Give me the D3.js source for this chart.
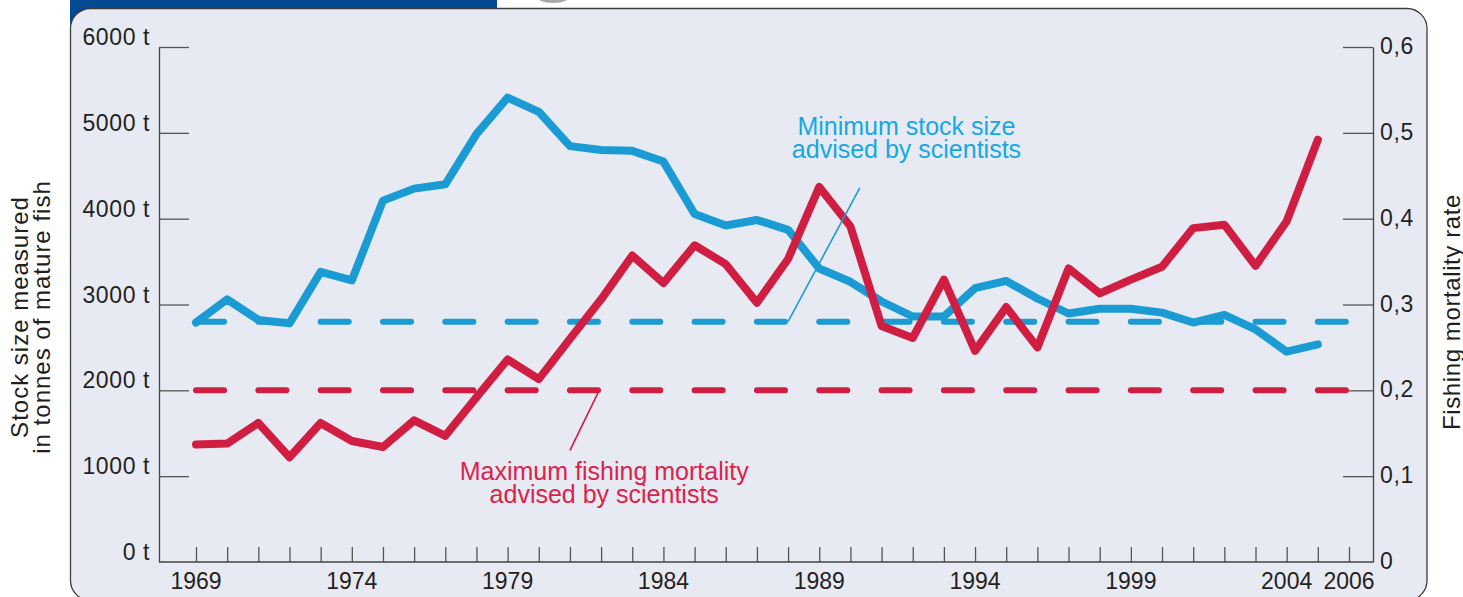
<!DOCTYPE html>
<html>
<head>
<meta charset="utf-8">
<script src="https://cdn.jsdelivr.net/npm/d3@7"></script>
<style>
  html, body { margin: 0; padding: 0; background: #fff; }
  svg { display: block; font-family: "Liberation Sans", Arial, Helvetica, sans-serif; }
</style>
</head>
<body>
<svg id="chart" width="1463" height="597"></svg>
<script>
// values
const years = [1969, 1970, 1971, 1972, 1973, 1974, 1975, 1976, 1977, 1978,
  1979, 1980, 1981, 1982, 1983, 1984, 1985, 1986, 1987, 1988,
  1989, 1990, 1991, 1992, 1993, 1994, 1995, 1996, 1997, 1998,
  1999, 2000, 2001, 2002, 2003, 2004, 2005];
const stockTonnes = [2790, 3060, 2820, 2780, 3380, 3280, 4210, 4350, 4400, 4985,
  5410, 5245, 4845, 4800, 4790, 4665, 4055, 3920, 3985, 3870,
  3420, 3265, 3035, 2860, 2860, 3190, 3275, 3070, 2895, 2950,
  2950, 2905, 2790, 2880, 2710, 2450, 2535];
const fishingMortality = [0.137, 0.138, 0.162, 0.122, 0.162, 0.141, 0.134, 0.165, 0.147, 0.192,
  0.236, 0.213, 0.260, 0.306, 0.357, 0.325, 0.369, 0.347, 0.302, 0.353,
  0.437, 0.391, 0.275, 0.261, 0.329, 0.246, 0.297, 0.250, 0.342, 0.313,
  0.329, 0.344, 0.389, 0.393, 0.345, 0.397, 0.492];

const stockAdvised = 2800;      // minimum stock size advised
const mortalityAdvised = 0.2;   // maximum fishing mortality advised
const refYears = [1969, 2006];

const stockTicks = [0, 1000, 2000, 3000, 4000, 5000, 6000];
const stockTickLabels = ["0 t", "1000 t", "2000 t", "3000 t", "4000 t", "5000 t", "6000 t"];
const mortalityTicks = [0, 0.1, 0.2, 0.3, 0.4, 0.5, 0.6];
const mortalityTickLabels = ["0", "0,1", "0,2", "0,3", "0,4", "0,5", "0,6"];
const yearTickLabels = [1969, 1974, 1979, 1984, 1989, 1994, 1999, 2004, 2006];

const stockTitle = ["Stock size measured", "in tonnes of mature fish"];
const mortalityTitle = "Fishing mortality rate";
const stockNote = ["Minimum stock size", "advised by scientists"];
const mortalityNote = ["Maximum fishing mortality", "advised by scientists"];
// callout pointers in data units: [year, value]
const stockPointer = [[1988, 2800], [1990.3, 4360]];
const mortalityPointer = [[1981.9, 0.197], [1981.0, 0.13]];

const blue = "#1b9bd4", blueText = "#14a8e4";
const red = "#d01d42", redText = "#dc2249";
const ink = "#231f20", axisInk = "#444";

const svg = d3.select("#chart");

// panel
svg.append("rect").attr("x", 70).attr("y", 0).attr("width", 427).attr("height", 30)
  .attr("fill", "#044a92");
svg.append("ellipse").attr("cx", 553).attr("cy", -5).attr("rx", 18).attr("ry", 8)
  .attr("fill", "#a9a9a9");
svg.append("rect").attr("x", 70.5).attr("y", 8.5).attr("width", 1356.5).attr("height", 592)
  .attr("rx", 20).attr("fill", "#e8eaf3").attr("stroke", "#3d3d3d").attr("stroke-width", 1.3);

const axL = 159, axR = 1373, plotTop = 47, base = 562;
const x = d3.scaleLinear().domain([1969, 2006]).range([196, 1349]);
const yL = d3.scaleLinear().domain([0, 6000]).range([base, plotTop]);
const yR = d3.scaleLinear().domain([0, 0.6]).range([base, plotTop]);

// axes, ticks pointing inward
const gL = svg.append("g").attr("transform", `translate(${axL},0)`)
  .call(d3.axisRight(yL).tickValues(stockTicks.slice(1)).tickSize(30).tickSizeOuter(0).tickFormat(""));
const gR = svg.append("g").attr("transform", `translate(${axR},0)`)
  .call(d3.axisLeft(yR).tickValues(mortalityTicks.slice(1)).tickSize(30).tickSizeOuter(0).tickFormat(""));
const gB = svg.append("g").attr("transform", `translate(0,${base})`)
  .call(d3.axisTop(x).tickValues(d3.range(1969, 2007)).tickSize(15).tickSizeOuter(0).tickFormat(""));
gB.select(".domain").remove();
svg.append("line").attr("x1", axL).attr("x2", axR).attr("y1", base).attr("y2", base)
  .attr("stroke", axisInk).attr("stroke-width", 1.3);
[gL, gR, gB].forEach((g) => {
  g.select(".domain").attr("stroke", axisInk).attr("stroke-width", 1.3);
  g.selectAll(".tick line").attr("stroke", "#555").attr("stroke-width", 1.3);
});

// tick labels
svg.append("g").selectAll("text").data(stockTicks).join("text")
  .attr("x", 150).attr("y", (d) => yL(d) - 2)
  .attr("text-anchor", "end").attr("font-size", 23).attr("letter-spacing", 0.6)
  .attr("fill", ink).text((d, i) => stockTickLabels[i]);
svg.append("g").selectAll("text").data(mortalityTicks).join("text")
  .attr("x", 1380).attr("y", (d) => yR(d) + 7)
  .attr("font-size", 23).attr("letter-spacing", 0.6)
  .attr("fill", ink).text((d, i) => mortalityTickLabels[i]);
svg.append("g").selectAll("text").data(yearTickLabels).join("text")
  .attr("x", (d) => x(d)).attr("y", 589)
  .attr("text-anchor", "middle").attr("font-size", 23)
  .attr("font-family", "'Liberation Sans Narrow', 'Arial Narrow', 'Liberation Sans', Arial, sans-serif")
  .attr("fill", ink).text((d) => d);

// axis titles
svg.append("text").attr("transform", "translate(28,317) rotate(-90)")
  .attr("text-anchor", "middle").attr("font-size", 24).attr("letter-spacing", 1)
  .attr("fill", ink)
  .selectAll("tspan").data(stockTitle).join("tspan")
  .attr("x", 0).attr("dy", (d, i) => (i === 0 ? 0 : 22)).text((d) => d);
svg.append("text").attr("transform", "translate(1460,312) rotate(-90)")
  .attr("text-anchor", "middle").attr("font-size", 24).attr("letter-spacing", 0.6)
  .attr("fill", ink).text(mortalityTitle);

// advised reference lines
const step = x(1971) - x(1969);
const dash = `${step * 0.45} ${step * 0.55}`;
svg.append("line").attr("x1", x(refYears[0])).attr("x2", x(refYears[1]))
  .attr("y1", yL(stockAdvised)).attr("y2", yL(stockAdvised))
  .attr("stroke", blue).attr("stroke-width", 6).attr("stroke-linecap", "round")
  .attr("stroke-dasharray", dash);
svg.append("line").attr("x1", x(refYears[0])).attr("x2", x(refYears[1]))
  .attr("y1", yR(mortalityAdvised)).attr("y2", yR(mortalityAdvised))
  .attr("stroke", red).attr("stroke-width", 6).attr("stroke-linecap", "round")
  .attr("stroke-dasharray", dash);

// series
const stockLine = d3.line().x((d, i) => x(years[i])).y((d) => yL(d));
const fLine = d3.line().x((d, i) => x(years[i])).y((d) => yR(d));
svg.append("path").datum(stockTonnes).attr("d", stockLine)
  .attr("fill", "none").attr("stroke", blue).attr("stroke-width", 8)
  .attr("stroke-linejoin", "round").attr("stroke-linecap", "round");
svg.append("path").datum(fishingMortality).attr("d", fLine)
  .attr("fill", "none").attr("stroke", red).attr("stroke-width", 8)
  .attr("stroke-linejoin", "round").attr("stroke-linecap", "round");

// callouts
svg.append("path").datum(stockPointer)
  .attr("d", d3.line().x((d) => x(d[0])).y((d) => yL(d[1])))
  .attr("fill", "none").attr("stroke", blue).attr("stroke-width", 1.6);
svg.append("path").datum(mortalityPointer)
  .attr("d", d3.line().x((d) => x(d[0])).y((d) => yR(d[1])))
  .attr("fill", "none").attr("stroke", red).attr("stroke-width", 1.6);

svg.append("text").attr("x", x(1991.8)).attr("y", yL(4980))
  .attr("text-anchor", "middle").attr("font-size", 25).attr("fill", blueText)
  .selectAll("tspan").data(stockNote).join("tspan")
  .attr("x", x(1991.8)).attr("dy", (d, i) => (i === 0 ? 0 : 23)).text((d) => d);
svg.append("text").attr("x", x(1982.1)).attr("y", yR(0.095))
  .attr("text-anchor", "middle").attr("font-size", 25).attr("fill", redText)
  .selectAll("tspan").data(mortalityNote).join("tspan")
  .attr("x", x(1982.1)).attr("dy", (d, i) => (i === 0 ? 0 : 23)).text((d) => d);
</script>
</body>
</html>
